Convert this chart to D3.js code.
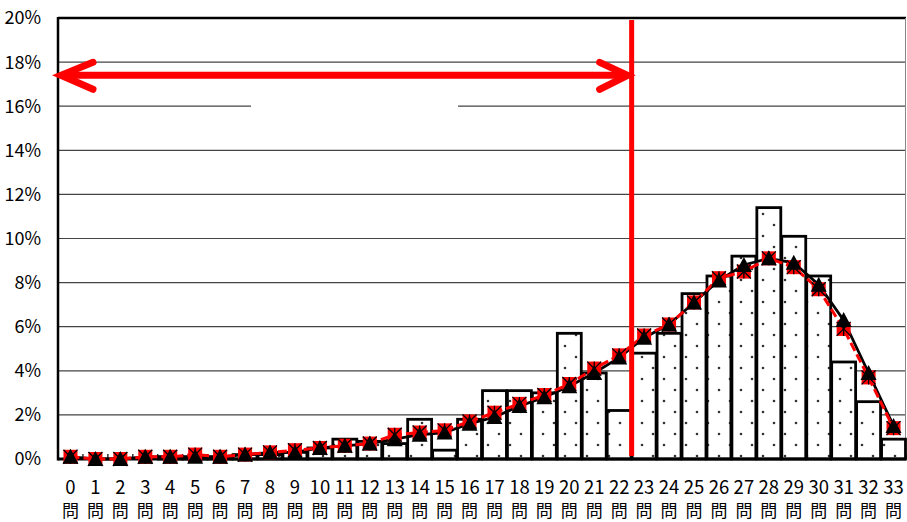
<!DOCTYPE html>
<html>
<head>
<meta charset="utf-8">
<script src="https://cdn.jsdelivr.net/npm/d3@7"></script>
<style>
  body { margin: 0; background: #fff; }
  svg { display: block; font-family: "Noto Sans CJK JP", "Noto Sans", sans-serif; }
</style>
</head>
<body>
<div id="chart"></div>
<script>
// categories: number of correct answers
const categories = d3.range(0, 34).map(d => String(d));
const unitLabel = "問";
// bars: share of examinees (%)
const barValues = [0.0, 0.0, 0.0, 0.0, 0.1, 0.1, 0.1, 0.2, 0.2, 0.3, 0.5, 0.9, 0.8, 0.7, 1.8, 0.4, 1.8, 3.1, 3.1, 3.0,
  5.7, 3.9, 2.2, 4.8, 5.7, 7.5, 8.3, 9.2, 11.4, 10.1, 8.3, 4.4, 2.6, 0.9];
// black line with triangles
const lineBlack = [0.1, 0.0, 0.0, 0.1, 0.1, 0.1, 0.1, 0.2, 0.3, 0.3, 0.5, 0.6, 0.7, 0.9, 1.1, 1.2, 1.6, 1.9, 2.4, 2.8,
  3.3, 3.9, 4.6, 5.5, 6.1, 7.1, 8.1, 8.8, 9.1, 8.9, 7.9, 6.3, 3.9, 1.5];
// red dashed line with square markers
const lineRed = [0.1, 0.0, 0.0, 0.1, 0.1, 0.2, 0.1, 0.2, 0.3, 0.4, 0.5, 0.6, 0.7, 1.1, 1.2, 1.3, 1.7, 2.1, 2.5, 2.9,
  3.4, 4.1, 4.7, 5.6, 6.1, 7.1, 8.2, 8.5, 9.1, 8.7, 7.7, 5.9, 3.7, 1.4];
const yTicks = [0, 2, 4, 6, 8, 10, 12, 14, 16, 18, 20];
const passMark = 23;      // red vertical line sits before this category
const arrowLevel = 17.4;  // height of the red arrow (%)

const width = 907, height = 522;
const margin = { top: 18, right: 1, bottom: 63, left: 58 };

const svg = d3.select("#chart").append("svg")
  .attr("width", width)
  .attr("height", height);

const x = d3.scaleBand()
  .domain(categories)
  .range([margin.left, width - margin.right])
  .paddingInner(0.04)
  .paddingOuter(0.02);

const y = d3.scaleLinear()
  .domain([0, 20])
  .range([height - margin.bottom, margin.top]);

// dotted fill for bars
const defs = svg.append("defs");
const pat = defs.append("pattern")
  .attr("id", "dots")
  .attr("patternUnits", "userSpaceOnUse")
  .attr("width", 22).attr("height", 22);
pat.append("rect").attr("width", 22).attr("height", 22).attr("fill", "#fff");
pat.append("circle").attr("cx", 4).attr("cy", 5).attr("r", 1.3).attr("fill", "#333");
pat.append("circle").attr("cx", 15).attr("cy", 16).attr("r", 1.3).attr("fill", "#333");

// gridlines
svg.append("g")
  .selectAll("line")
  .data(yTicks.filter(t => t > 0))
  .enter().append("line")
  .attr("x1", margin.left).attr("x2", width - margin.right)
  .attr("y1", d => y(d)).attr("y2", d => y(d))
  .attr("stroke", d => d === 20 ? "#000" : "#444")
  .attr("stroke-width", d => d === 20 ? 2.5 : 1.2);

// empty white text box hiding part of the 16% line
svg.append("rect")
  .attr("x", 251).attr("y", y(16) - 8)
  .attr("width", 207).attr("height", 16)
  .attr("fill", "#fff");

// right border
svg.append("line")
  .attr("x1", width - 1.5).attr("x2", width - 1.5)
  .attr("y1", y(20)).attr("y2", y(0))
  .attr("stroke", "#888").attr("stroke-width", 1);

// bars
svg.append("g")
  .selectAll("rect")
  .data(barValues)
  .enter().append("rect")
  .attr("x", (d, i) => x(categories[i]))
  .attr("y", d => y(d))
  .attr("width", x.bandwidth())
  .attr("height", d => y(0) - y(d))
  .attr("fill", "url(#dots)")
  .attr("stroke", "#000")
  .attr("stroke-width", 2.8);

// axes lines
svg.append("line")
  .attr("x1", margin.left).attr("x2", margin.left)
  .attr("y1", y(20) - 1).attr("y2", y(0) + 1.5)
  .attr("stroke", "#000").attr("stroke-width", 2.5);
svg.append("line")
  .attr("x1", margin.left).attr("x2", width - margin.right)
  .attr("y1", y(0)).attr("y2", y(0))
  .attr("stroke", "#000").attr("stroke-width", 3);

// small ticks on the x axis between categories
svg.append("g")
  .selectAll("line")
  .data(categories)
  .enter().append("line")
  .attr("x1", (d, i) => margin.left + (i + 1) * (width - margin.right - margin.left) / categories.length)
  .attr("x2", (d, i) => margin.left + (i + 1) * (width - margin.right - margin.left) / categories.length)
  .attr("y1", y(0)).attr("y2", y(0) - 5)
  .attr("stroke", "#000").attr("stroke-width", 1.2);

// y tick labels
svg.append("g")
  .selectAll("text")
  .data(yTicks)
  .enter().append("text")
  .attr("x", 41)
  .attr("y", d => y(d))
  .attr("dy", "0.36em")
  .attr("text-anchor", "end")
  .attr("font-size", 18)
  .text(d => d + "%");

// x tick labels, two lines
const xl = svg.append("g")
  .selectAll("g")
  .data(categories)
  .enter().append("g")
  .attr("transform", d => `translate(${x(d) + x.bandwidth() / 2},0)`);
xl.append("text")
  .attr("y", 494)
  .attr("text-anchor", "middle")
  .attr("font-size", 18.5)
  .text(d => d);
xl.append("text")
  .attr("y", 517)
  .attr("text-anchor", "middle")
  .attr("font-size", 17)
  .text(unitLabel);

const cx = i => x(categories[i]) + x.bandwidth() / 2;

// lines
const line = d3.line().x((d, i) => cx(i)).y(d => y(d));
svg.append("path")
  .datum(lineBlack)
  .attr("d", line)
  .attr("fill", "none")
  .attr("stroke", "#000")
  .attr("stroke-width", 2.8);
svg.append("path")
  .datum(lineRed)
  .attr("d", line)
  .attr("fill", "none")
  .attr("stroke", "#f00")
  .attr("stroke-width", 3)
  .attr("stroke-dasharray", "9,4");

// red square markers with black asterisk
const sq = svg.append("g")
  .selectAll("g")
  .data(lineRed)
  .enter().append("g")
  .attr("transform", (d, i) => `translate(${cx(i)},${y(d)})`);
sq.append("rect")
  .attr("x", -7).attr("y", -7).attr("width", 14).attr("height", 14)
  .attr("fill", "#f00");
sq.append("path")
  .attr("d", "M-7,-7L7,7M7,-7L-7,7M0,-7V7")
  .attr("stroke", "#000").attr("stroke-width", 1.3);

// black triangles
svg.append("g")
  .selectAll("path")
  .data(lineBlack)
  .enter().append("path")
  .attr("transform", (d, i) => `translate(${cx(i)},${y(d)})`)
  .attr("d", "M0,-8L8,7L-8,7Z")
  .attr("fill", "#000");

// red vertical pass line
const px = margin.left + passMark * (width - margin.right - margin.left) / categories.length;
svg.append("line")
  .attr("x1", px).attr("x2", px)
  .attr("y1", y(20) + 2).attr("y2", y(0) - 3)
  .attr("stroke", "#f00").attr("stroke-width", 5);

// red double arrow
const ay = y(arrowLevel);
const ax1 = margin.left + 3, ax2 = px - 4;
svg.append("line")
  .attr("x1", ax1 + 4).attr("x2", ax2 - 4)
  .attr("y1", ay).attr("y2", ay)
  .attr("stroke", "#f00").attr("stroke-width", 7);
svg.append("path")
  .attr("d", `M${ax1 + 32},${ay - 13}L${ax1},${ay}L${ax1 + 32},${ay + 14}`)
  .attr("fill", "none").attr("stroke", "#f00").attr("stroke-width", 7)
  .attr("stroke-linecap", "round").attr("stroke-linejoin", "miter");
svg.append("path")
  .attr("d", `M${ax2 - 28},${ay - 13}L${ax2},${ay}L${ax2 - 28},${ay + 14}`)
  .attr("fill", "none").attr("stroke", "#f00").attr("stroke-width", 7)
  .attr("stroke-linecap", "round").attr("stroke-linejoin", "miter");
</script>
</body>
</html>
